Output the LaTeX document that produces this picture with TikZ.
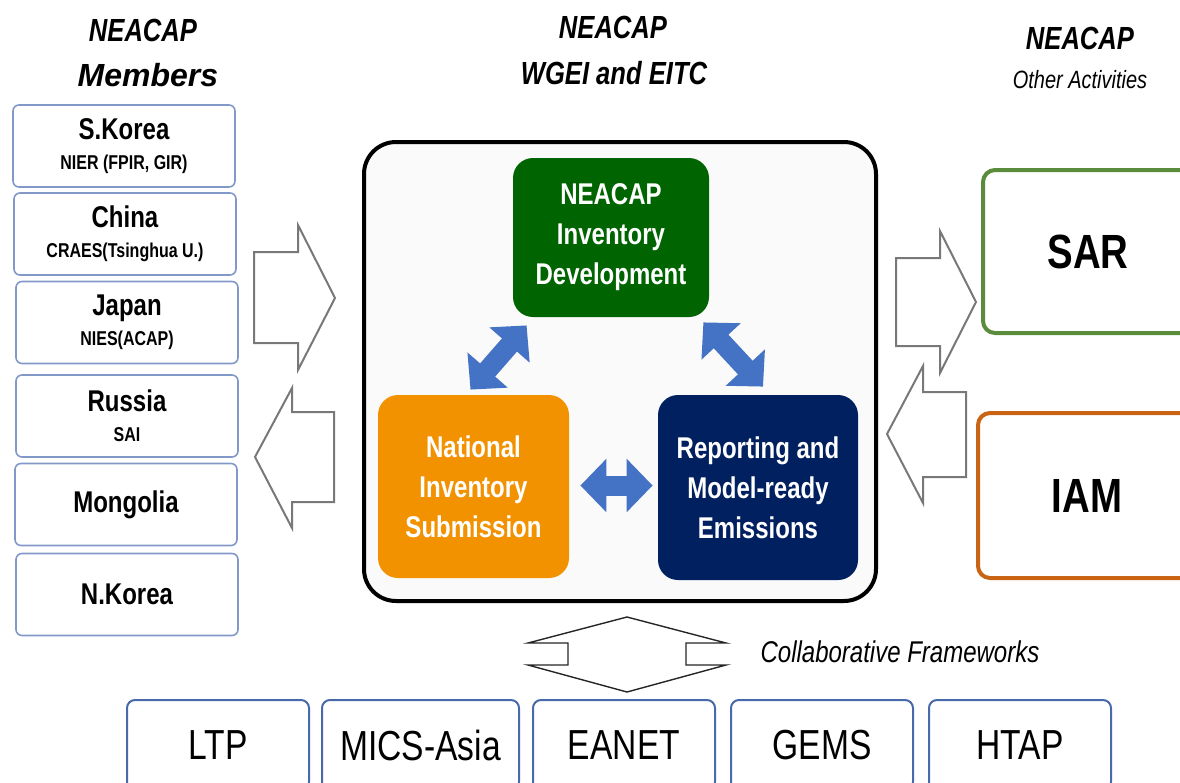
\documentclass[tikz,border=0pt]{standalone}
\usepackage{fontspec}
\setmainfont{Liberation Sans}
\newfontfamily\narrowsf[FakeStretch=0.8]{Liberation Sans}
\usetikzlibrary{arrows.meta,positioning}
\definecolor{memberblue}{RGB}{130,152,200}
\definecolor{frameblue}{RGB}{72,106,170}
\definecolor{arrowgray}{RGB}{120,120,120}
\definecolor{devgreen}{RGB}{0,100,0}
\definecolor{suborange}{RGB}{243,146,0}
\definecolor{repnavy}{RGB}{0,32,96}
\definecolor{cycblue}{RGB}{68,114,196}
\definecolor{sargreen}{RGB}{90,140,60}
\definecolor{iamorange}{RGB}{200,100,20}
\newcommand\membersub{\fontsize{10}{15}\selectfont}
\tikzset{
heading/.style = {inner sep=0pt, align=center, font=\narrowsf\bfseries\itshape\fontsize{16}{16}\selectfont},
member/.style = {draw=memberblue, line width=0.8pt, rounded corners=3pt, minimum width=111pt, minimum height=41pt, inner sep=0pt, align=center, font=\narrowsf\bfseries\fontsize{15}{15}\selectfont},% pays membres
wgei/.style = {draw=black, line width=2pt, fill=black!2, rounded corners=16pt, minimum width=256pt, minimum height=229.5pt, inner sep=0pt},
stage/.style = {rounded corners=10pt, inner sep=0pt, align=center, text=white, font=\narrowsf\bfseries\fontsize{15}{20}\selectfont},% etapes du cycle
other/.style = {line width=2pt, rounded corners=6pt, fill=white, inner sep=0pt, font=\narrowsf\bfseries\fontsize{24}{24}\selectfont},
frame/.style = {draw=frameblue, line width=1pt, rounded corners=4pt, minimum width=91pt, minimum height=45pt, inner sep=0pt, font=\narrowsf\fontsize{21}{21}\selectfont},% cadres de collaboration
hollow/.style = {draw=arrowgray, line width=1pt, fill=white, line join=miter},
cycarrow/.style = {draw=cycblue, line width=10pt, {Triangle[length=13pt,width=26pt]}-{Triangle[length=13pt,width=26pt]}}
}
\begin{document}
\begin{tikzpicture}[x=0.5pt, y=-0.5pt]
  \useasboundingbox (0,0) rectangle (1180,783);
  \clip (0,0) rectangle (1180,783);
  % titres
  \node[heading] (memtitle) at (143,30) {NEACAP};
  \node[heading, font=\bfseries\itshape\fontsize{16}{16}\selectfont] (memsub) at (148,75) {Members};
  \node[heading] (wgeititle) at (613,27) {NEACAP};
  \node[heading] (wgeisub) at (614,73) {WGEI and EITC};
  \node[heading] (othtitle) at (1080,38) {NEACAP};
  \node[heading, font=\narrowsf\itshape\fontsize{12.5}{12.5}\selectfont] (othsub) at (1080,80) {Other Activities};
  % pays membres
  \node[member] (skorea) at (124,146) {S.Korea\\{\membersub NIER (FPIR, GIR)}};
  \node[member] (china) at (125,234) {China\\{\membersub CRAES(Tsinghua U.)}};
  \node[member] (japan) at (127,322.5) {Japan\\{\membersub NIES(ACAP)}};
  \node[member] (russia) at (127,416) {Russia\\{\membersub SAI}};
  \node[member] (mongolia) at (126,504.5) {Mongolia};
  \node[member] (nkorea) at (127,594.5) {N.Korea};
  % fleches creuses
  \draw[hollow] (254,252) -- (298,252) -- (298,225) -- (335,298) -- (298,370) -- (298,343) -- (254,343) -- cycle;
  \draw[hollow] (334,412) -- (292,412) -- (292,388) -- (255,457) -- (292,528) -- (292,502) -- (334,502) -- cycle;
  \draw[hollow] (896,258) -- (940,258) -- (940,231) -- (976,302) -- (940,373) -- (940,346) -- (896,346) -- cycle;
  \draw[hollow] (966,392) -- (923,392) -- (923,366) -- (887,434) -- (923,503) -- (923,477) -- (966,477) -- cycle;
  % WGEI et EITC
  \node[wgei] (wgei) at (620,371.5) {};
  \node[stage, fill=devgreen, minimum width=98pt, minimum height=79.5pt] (ird) at (611,237.5) {NEACAP\\Inventory\\Development};
  \node[stage, fill=suborange, minimum width=95.5pt, minimum height=91.5pt] (nis) at (473.5,486.5) {National\\Inventory\\Submission};
  \node[stage, fill=repnavy, minimum width=100pt, minimum height=92.5pt] (rme) at (758,487.5) {Reporting and\\Model-ready\\Emissions};
  \draw[cycarrow] ([shift={(-3,-5)}]nis.north) -- ([shift={(14,8)}]ird.south west);
  \draw[cycarrow] ([shift={(-6,5)}]ird.south east) -- ([shift={(5,-8)}]rme.north);
  \draw[cycarrow] ([shift={(11,-1)}]nis.east) -- ([shift={(-5,-2)}]rme.west);
  % autres activites
  \node[other, draw=sargreen, minimum width=105pt, minimum height=81.5pt] (sar) at (1088,251.5) {SAR};
  \node[other, draw=iamorange, minimum width=109pt, minimum height=82.5pt] (iam) at (1087,495.5) {IAM};
  % collaboration
  \draw[draw=black!85, line width=0.7pt, fill=white] (627,617) -- (726,643) -- (686,643) -- (686,665) -- (726,665) -- (627,692) -- (528,665) -- (568,665) -- (568,643) -- (528,643) -- cycle;
  \node[inner sep=0pt, font=\narrowsf\itshape\fontsize{15}{15}\selectfont] (collab) at (900,652) {Collaborative Frameworks};
  \node[frame] (ltp) at (218,745) {LTP};
  \node[frame, minimum width=98.5pt, right=5.5pt of ltp] (mics) {MICS-Asia};
  \node[frame, right=6pt of mics] (eanet) {EANET};
  \node[frame, right=7pt of eanet] (gems) {GEMS};
  \node[frame, right=7pt of gems] (htap) {HTAP};
\end{tikzpicture}
\end{document}
